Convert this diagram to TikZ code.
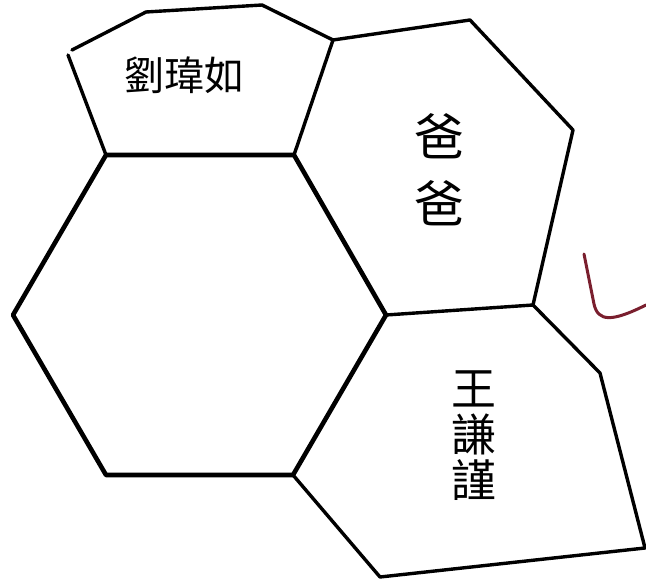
\documentclass[tikz,border=0pt]{standalone}
\usepackage{fontspec}
\newfontfamily\cjk{Noto Sans CJK TC}
\begin{document}
\begin{tikzpicture}[x=1pt, y=-1pt, line join=round, line cap=round,
  hexline/.style={line width=4.6pt},
  cell/.style={line width=3.4pt},
  check/.style={line width=3pt, draw=tick},
  lab/.style={font=\cjk, align=center, inner sep=0pt}
]
  \definecolor{tick}{HTML}{7A1F2E}
  \useasboundingbox (0,0) rectangle (646,580);

  % centre hexagon
  \coordinate (h1) at (106,155);
  \coordinate (h2) at (294,155);
  \coordinate (h3) at (386,315);
  \coordinate (h4) at (293,475);
  \coordinate (h5) at (106,475);
  \coordinate (h6) at (13,315);

  % top cell
  \coordinate (t1) at (68,55);
  \coordinate (t2) at (72,50);
  \coordinate (t3) at (146,12);
  \coordinate (t4) at (262,5);
  \coordinate (t5) at (333,40);

  % upper right cell
  \coordinate (u1) at (470,20);
  \coordinate (u2) at (573,130);
  \coordinate (u3) at (533,305);

  % lower right cell
  \coordinate (l1) at (600,373);
  \coordinate (l2) at (645,548);
  \coordinate (l3) at (380,577);

  \draw[hexline] (h1)--(h2)--(h3)--(h4)--(h5)--(h6)--cycle;

  \draw[cell] (h1)--(t1) (t2)--(t3)--(t4)--(t5)--(h2);
  \draw[cell] (t5)--(u1)--(u2)--(u3)--(h3);
  \draw[cell] (u3)--(l1)--(l2)--(l3)--(h4);

  \draw[check] (584,254) -- (594,304) .. controls (598,322) and (612,322) .. (646,305);

  \node[lab, font=\cjk\fontsize{40}{40}\selectfont] (liu) at (184,75) {劉瑋如};
  \node[lab, font=\cjk\fontsize{50}{67}\selectfont] (baba) at (439,170) {爸\\爸};
  \node[lab, font=\cjk\fontsize{45}{46}\selectfont] (wang) at (474,436) {王\\謙\\謹};
\end{tikzpicture}
\end{document}
